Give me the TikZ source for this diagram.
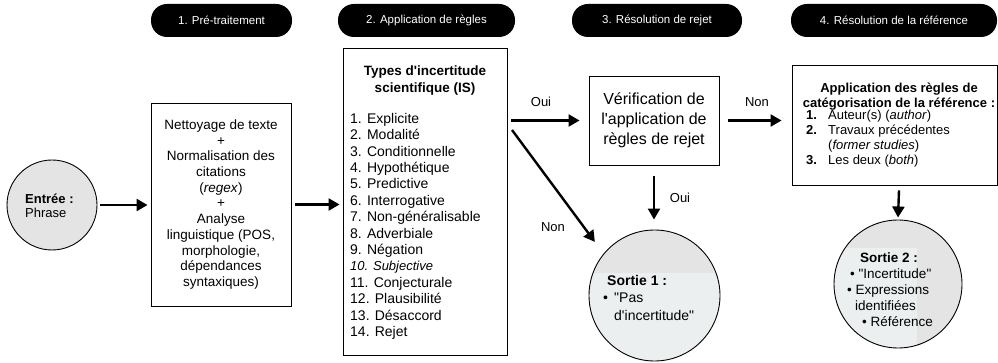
\documentclass[tikz,border=0pt]{standalone}
\usepackage{fontspec}
\setmainfont{Liberation Sans}[Ligatures=TeXOff]
\usetikzlibrary{arrows.meta}
\definecolor{circfill}{HTML}{E4E4E4}
\definecolor{circlight}{HTML}{ECEFF0}
\begin{document}
\begin{tikzpicture}[x=1pt,y=-1pt,
  pill/.style={fill=black, text=white, rounded corners=16pt, minimum height=33pt, inner sep=0pt, font=\fontsize{11.5}{13}\selectfont},
  box/.style={draw=black, line width=0.9pt, inner sep=0pt},
  arr/.style={line width=2.4pt, -{Triangle[length=11pt,width=12pt]}},
  lbl/.style={font=\fontsize{13}{15}\selectfont, inner sep=0pt},
  txt/.style={inner sep=0pt},
]
\useasboundingbox (0,0) rectangle (998,363);
% header pills
\node[pill, minimum width=141pt] (p1) at (221.5,20.5) {1. Pré-traitement};
\node[pill, minimum width=177pt] (p2) at (426.5,20.5) {2. Application de règles};
\node[pill, minimum width=170pt] (p3) at (657,20.5) {3. Résolution de rejet};
\node[pill, minimum width=206pt] (p4) at (894,20.5) {4. Résolution de la référence};
% input
\node[circle, draw, line width=0.9pt, fill=circfill, minimum size=90pt, inner sep=0pt] (in) at (52,205) {};
\node[txt, anchor=west, align=left, font=\fontsize{13}{14.5}\selectfont] (inT) at (25,206) {\textbf{Entrée :}\\Phrase};
% box 1
\node[box, minimum width=140pt, minimum height=203pt, align=center, font=\fontsize{13.5}{15.7}\selectfont] (b1) at (221,204.5) {Nettoyage de texte\\+\\Normalisation des\\citations\\(\textit{regex})\\+\\Analyse\\linguistique (POS,\\morphologie,\\dépendances\\syntaxiques)};
% box 2
\node[box, minimum width=164pt, minimum height=307pt] (b2) at (425,201.5) {};
\node[txt, align=center, font=\bfseries\fontsize{13.5}{17}\selectfont] (b2t) at (425,81) {Types d'incertitude\\scientifique (IS)};
\node[txt, anchor=north west, align=left, font=\fontsize{14}{16.4}\selectfont] (b2l) at (350,113) {1. Explicite\\2. Modalité\\3. Conditionnelle\\4. Hypothétique\\5. Predictive\\6. Interrogative\\7. Non-généralisable\\8. Adverbiale\\9. Négation\\{\itshape\fontsize{13}{16.4}\selectfont 10. Subjective}\\11. Conjecturale\\12. Plausibilité\\13. Désaccord\\14. Rejet};
% box 3
\node[box, minimum width=130pt, minimum height=89pt, align=center, font=\fontsize{16}{20}\selectfont] (b3) at (654,120.5) {Vérification de\\l'application de\\règles de rejet};
% box 4
\node[box, minimum width=205pt, minimum height=120pt] (b4) at (894.5,125) {};
\node[txt, align=center, font=\bfseries\fontsize{13}{15}\selectfont] (b4t) at (899,97) {Application des règles de\\catégorisation de la référence :};
\node[txt, anchor=north west, align=left, font=\fontsize{13}{15}\selectfont] (b4l) at (806,110) {\makebox[22pt][l]{\textbf{1.}}Auteur(s) (\textit{author})\\\makebox[22pt][l]{\textbf{2.}}Travaux précédentes\\\hspace*{22pt}(\textit{former studies})\\\makebox[22pt][l]{\textbf{3.}}Les deux (\textit{both})};
% output 1
\node[circle, draw, line width=0.9pt, minimum size=131pt, inner sep=0pt, fill=circlight,
  path picture={\fill[circfill] (path picture bounding box.north west) rectangle ([yshift=-43pt]path picture bounding box.north east);}] (s1) at (654.5,295.5) {};
\node[txt, anchor=north west, align=left, font=\fontsize{14}{17.5}\selectfont] (s1t) at (603,275) {\hspace*{4pt}\textbf{Sortie 1 :}\\\makebox[11pt][l]{•}"Pas\\\hspace*{11pt}d'incertitude"};
% output 2
\node[circle, draw, line width=0.9pt, minimum size=128pt, inner sep=0pt, fill=circfill,
  path picture={\fill[circlight] ([yshift=-28pt]path picture bounding box.north west) rectangle ([xshift=-45pt]path picture bounding box.south east);}] (s2) at (898,284) {};
\node[txt, anchor=north west, align=left, font=\fontsize{13.5}{16}\selectfont] (s2t) at (847,253) {\hspace*{13pt}\textbf{Sortie 2 :}\\\hspace*{3pt}• "Incertitude"\\• Expressions\\\hspace*{8pt}identifiées\\\hspace*{15pt}• Référence};
% labels
\node[lbl] (oui1) at (541,102) {Oui};
\node[lbl] (non1) at (553,227) {Non};
\node[lbl] (oui2) at (680,198) {Oui};
\node[lbl] (non2) at (757,102) {Non};
% arrows
\coordinate (nonS) at (512,130);
\draw[arr] ([xshift=3pt]in.east) -- ([xshift=-3pt]in.east -| b1.west);
\draw[arr] ([xshift=4pt]b1.east) -- ([xshift=-3pt]b1.east -| b2.west);
\draw[arr] ([xshift=4pt]b3.west -| b2.east) -- ([xshift=-9pt]b3.west);
\draw[arr] (nonS) -- ([shift={(-13pt,7pt)}]s1.135);
\draw[arr] ([yshift=-11pt]b3.south) -- ([yshift=10pt]b3.south |- s1.north);
\draw[arr] ([xshift=9pt]b3.east) -- ([xshift=-10pt]b3.east -| b4.west);
\draw[arr] ([xshift=4.5pt,yshift=-5pt]b4.south) -- ([yshift=2pt]s2.north);
\end{tikzpicture}
\end{document}
